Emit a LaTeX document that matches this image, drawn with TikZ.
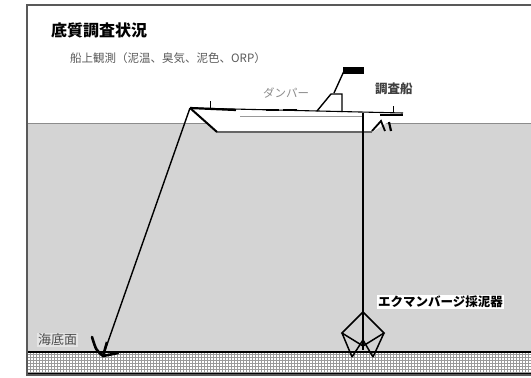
\documentclass[tikz,border=0pt]{standalone}
\usepackage{fontspec}
\usetikzlibrary{patterns}
\newfontfamily\cjk{Noto Sans CJK JP}
\begin{document}
\begin{tikzpicture}[x=1pt,y=-1pt,
  water/.style={fill=black!17},
  wire/.style={draw=black,line width=1.4pt},
  hullline/.style={draw=black,line width=1.1pt},
  lbl/.style={inner sep=1pt,font=\cjk\fontsize{11.5}{11.5}\selectfont},
  boxlbl/.style={lbl,fill=white,text=black}]
\useasboundingbox (0,0) rectangle (531,378);
% sea water
\fill[water] (27,123) rectangle (531,352);
\draw[black!45,line width=1pt] (27,123) -- (531,123);
% seabed
\fill[white] (27,352) rectangle (531,374);
\fill[pattern=grid,pattern color=black!40] (27,352) rectangle (531,374);
\draw[line width=1.8pt] (27,352) -- (531,352);
\draw[line width=1.8pt] (27,374) -- (531,374);
% outer frame
\draw[black!65,line width=2.8pt] (531,5) -- (27,5) -- (27,375) -- (531,375);

% ship hull
\fill[white] (190,108) -- (403,113) -- (372,132) -- (217,132) -- cycle;
\draw[black!60,line width=2pt] (217,132) -- (372,132);
\draw[black!40,line width=0.7pt] (240,116) -- (362,116);
\draw[hullline] (190,108) -- (403,113);
\draw[line width=2.2pt] (190,108) -- (236,110);
\draw[line width=2pt] (190,108) -- (217,132);
\draw[line width=1pt] (210,101) -- (210,108);
% deck houses
\draw[line width=2.6pt] (266,110) -- (279,110) (283,110) -- (297,110);
% crane frame and flag
\draw[line width=1.4pt] (317,111) -- (331,94) -- (342,94) -- (342,112);
\draw[line width=1.4pt] (334,93) -- (344,71);
\fill (343,67) rectangle (364,74);
% stern gear
\draw[line width=1pt] (393,106) -- (393,113);
\draw[line width=2.4pt] (380,115) -- (403,115);
\draw[line width=1.8pt] (372,131) -- (381,121) -- (385,131);
\draw[line width=2.2pt] (389,122) -- (391,131);

% named wire ends
\coordinate (bow) at (190,108);
\coordinate (anchor) at (103,356);
\coordinate (stern) at (363,113);
\coordinate (grabtop) at (363,312);

% anchor line and anchor
\draw[wire] (bow) -- (anchor);
\draw[line width=2.6pt] (107,342) -- (anchor);
\draw[line width=2.6pt,line cap=round] (92,337) .. controls (96,350) .. (anchor) -- (118,353);

% grab sampler line and sampler
\draw[wire] (stern) -- (grabtop);
\draw[line width=1.5pt] (grabtop) -- (342,333) -- (363,346) -- (384,333) -- cycle;
\draw[line width=1.5pt] (342,333) -- (352,357) (384,333) -- (373,357)
  (363,340) -- (352,357) (363,340) -- (373,357);
\draw[line width=2.8pt] (grabtop) -- (363,350);

% labels
\node[lbl,anchor=west,font=\cjk\bfseries\fontsize{16}{16}\selectfont] (title) at (50,30) {底質調査状況};
\node[lbl,anchor=west,text=black!65] (obs) at (69,58) {船上観測（泥温、臭気、泥色、ORP）};
\node[lbl,anchor=west,text=black!45] (crane) at (262,93) {ダンパー};
\node[lbl,anchor=west,text=black!75,font=\cjk\bfseries\fontsize{12.5}{12.5}\selectfont] (ship) at (374,89) {調査船};
\node[boxlbl,anchor=west,font=\cjk\bfseries\fontsize{12.5}{12.5}\selectfont] (grab) at (377,302) {エクマンバージ採泥器};
\node[lbl,anchor=west,fill=black!10,text=black!70,font=\cjk\fontsize{13}{13}\selectfont] (bed) at (37,340) {海底面};
\end{tikzpicture}
\end{document}
